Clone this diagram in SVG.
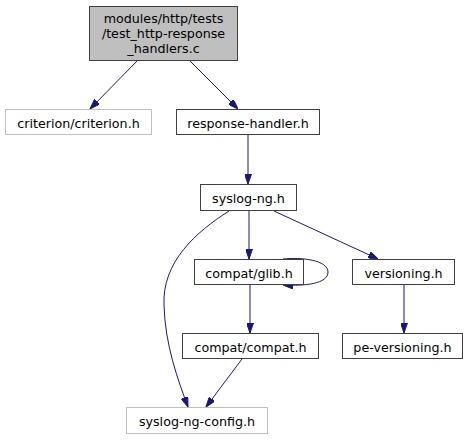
<svg xmlns="http://www.w3.org/2000/svg" width="471" height="440" viewBox="0 0 471 440">
<style>
.n rect{fill:#ffffff;stroke:#404040;stroke-width:1}
.n.main rect{fill:#bfbfbf}
.n.ext rect{stroke:#bfbfbf}
text{font-family:"DejaVu Sans",sans-serif;font-size:12.7px;fill:#000000;text-anchor:middle}
.e path{fill:none;stroke:#191970;stroke-width:1;marker-end:url(#ah)}
</style>
<defs>
<marker id="ah" markerUnits="userSpaceOnUse" viewBox="0 0 10 7" refX="10" refY="3.5" markerWidth="10" markerHeight="7" orient="auto">
<path d="M0,0 L10,3.5 L0,7 z" fill="#191970" stroke="#191970" stroke-width="1"/>
</marker>
</defs>
<rect width="471" height="440" fill="#ffffff"/>
<g class="e">
<path d="M137,61 L90,109"/>
<path d="M190,61 L238,109"/>
<path d="M248,135 L248,184"/>
<path d="M249,211 L249,259"/>
<path d="M274,211 L378,259"/>
<path d="M283,259 C301,257 328,260 328,272 C328,284 305,286 283,285"/>
<path d="M250,285 L250,333"/>
<path d="M404,285 L404,333"/>
<path d="M229,211 C196,232 162,262 164,305 C165,345 178,380 188,407"/>
<path d="M242,359 L206,407"/>
</g>
<g id="node1" class="n main"><rect x="89.5" y="6.5" width="148" height="54"/><text x="163.5" y="23">modules/http/tests</text><text x="163.5" y="38">/test_http-response</text><text x="163.5" y="52.5">_handlers.c</text></g>
<g id="node2" class="n ext"><rect x="5.5" y="109.5" width="146" height="25"/><text x="78.5" y="127.5">criterion/criterion.h</text></g>
<g id="node3" class="n"><rect x="176.5" y="109.5" width="143" height="25"/><text x="248" y="127.5">response-handler.h</text></g>
<g id="node4" class="n"><rect x="200.5" y="184.5" width="96" height="26"/><text x="248.5" y="202.5">syslog-ng.h</text></g>
<g id="node5" class="n"><rect x="194.5" y="259.5" width="109" height="25"/><text x="249" y="277.5">compat/glib.h</text></g>
<g id="node6" class="n"><rect x="352.5" y="259.5" width="102" height="25"/><text x="403.5" y="277.5">versioning.h</text></g>
<g id="node7" class="n"><rect x="182.5" y="333.5" width="136" height="25"/><text x="250.5" y="351.5">compat/compat.h</text></g>
<g id="node8" class="n"><rect x="342.5" y="333.5" width="120" height="25"/><text x="402.5" y="351.5">pe-versioning.h</text></g>
<g id="node9" class="n ext"><rect x="126.5" y="407.5" width="141" height="26"/><text x="197" y="425.5">syslog-ng-config.h</text></g>
</svg>
